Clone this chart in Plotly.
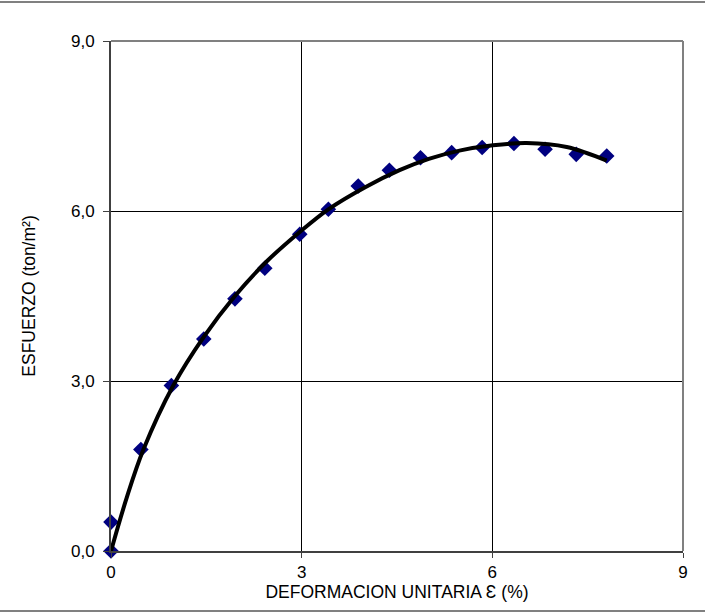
import plotly.graph_objects as go

# Messpunkte (Deformacion %, Esfuerzo ton/m2)
def_pts = [0, 0, 0.47, 0.95, 1.46, 1.95, 2.42, 2.97, 3.42, 3.89, 4.38, 4.87, 5.36, 5.84, 6.34, 6.83, 7.32, 7.80]
esf_pts = [0.0, 0.51, 1.79, 2.92, 3.74, 4.45, 4.99, 5.59, 6.03, 6.44, 6.72, 6.94, 7.03, 7.12, 7.19, 7.09, 7.00, 6.97]

# Tendenz-Kurve
def_curve = [0, 0.25, 0.51, 0.98, 1.46, 1.95, 2.44, 2.97, 3.42, 4.0, 4.54, 5.0, 5.5, 6.01, 6.54, 7.17, 7.8]
esf_curve = [0, 0.95, 1.79, 2.92, 3.78, 4.5, 5.1, 5.63, 6.03, 6.42, 6.72, 6.92, 7.07, 7.16, 7.2, 7.13, 6.89]

x_ticks = [0, 3, 6, 9]
y_ticks = [0, 3, 6, 9]

fig = go.Figure()
fig.add_trace(go.Scatter(x=def_pts, y=esf_pts, mode='markers',
                         marker=dict(symbol='diamond', color='#000080', size=12),
                         cliponaxis=False))
fig.add_trace(go.Scatter(x=def_curve, y=esf_curve, mode='lines', line_shape='spline',
                         line=dict(color='black', width=4), cliponaxis=False))

fig.update_layout(
    width=705, height=613,
    margin=dict(l=111, r=22, t=41, b=62),
    paper_bgcolor='white', plot_bgcolor='white',
    showlegend=False,
    separators=',.',
    font=dict(family='Liberation Sans, Arial', size=17, color='black'),
    xaxis=dict(range=[0, 9], tickvals=x_ticks, ticks='outside', ticklen=5, tickcolor='#404040',
               tickfont=dict(size=17),
               showgrid=True, gridcolor='black', gridwidth=1, zeroline=False,
               showline=True, linecolor='#404040', linewidth=2,
               title=dict(text='DEFORMACION UNITARIA Ɛ (%)', standoff=0, font=dict(size=17.5))),
    yaxis=dict(range=[0, 9], tickvals=y_ticks, tickformat='.1f', ticks='outside', ticklen=6,
               tickfont=dict(size=17), ticklabelstandoff=5,
               tickcolor='#404040', showgrid=True, gridcolor='black', gridwidth=1, zeroline=False,
               showline=True, linecolor='#404040', linewidth=2,
               title=dict(text='ESFUERZO (ton/m²)', standoff=31, font=dict(size=17.5))),
)

# Rahmen oben/rechts und Seitenlinien
fig.add_shape(type='line', xref='paper', yref='paper', x0=0, x1=1, y0=1, y1=1,
              line=dict(color='#808080', width=2))
fig.add_shape(type='line', xref='paper', yref='paper', x0=1, x1=1, y0=0, y1=1,
              line=dict(color='#808080', width=2))
fig.add_shape(type='line', xref='paper', yref='paper', x0=-111/572, x1=1 + 22/572,
              y0=1 + 39/510, y1=1 + 39/510, line=dict(color='#808080', width=2))
fig.add_shape(type='line', xref='paper', yref='paper', x0=-111/572, x1=1 + 22/572,
              y0=-60/510, y1=-60/510, line=dict(color='#808080', width=2))

fig.write_html("out.html", config={'displayModeBar': False},
               post_script="document.body.style.margin='0';")
